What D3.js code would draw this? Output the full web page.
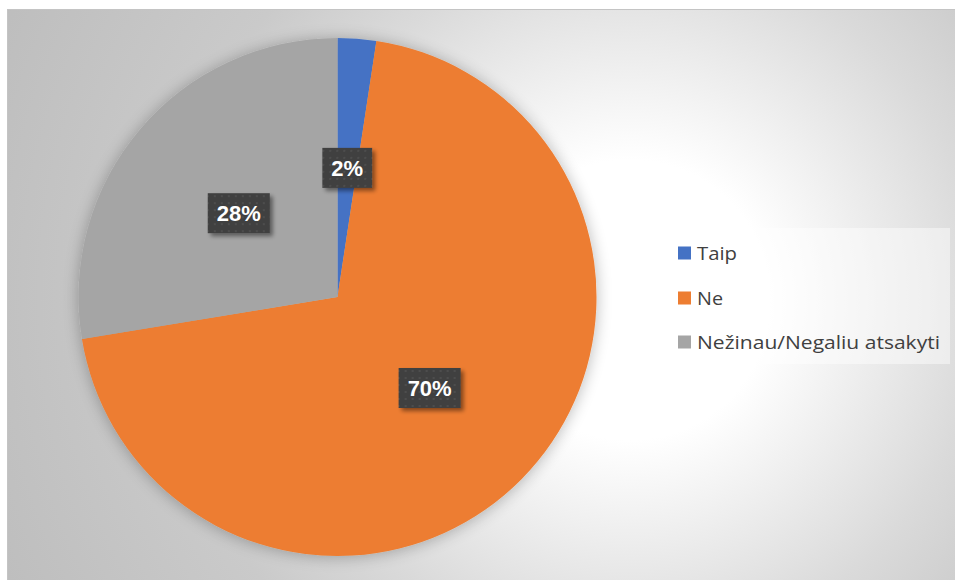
<!DOCTYPE html>
<html>
<head>
<meta charset="utf-8">
<script src="https://cdn.jsdelivr.net/npm/d3@7"></script>
<style>
  html, body { margin: 0; padding: 0; background: #ffffff; }
  svg { display: block; }
</style>
</head>
<body>
<script>
// ---- data ----
const categories = ["Taip", "Ne", "Nežinau/Negaliu atsakyti"];
const values = [2.4, 70.0, 27.6];
const colors = ["#4472c4", "#ed7d31", "#a5a5a5"];

const W = 955, H = 580;
const svg = d3.select("body").append("svg").attr("width", W).attr("height", H);
const defs = svg.append("defs");

// background gradient
const bg = defs.append("radialGradient").attr("id", "bg")
  .attr("gradientUnits", "userSpaceOnUse")
  .attr("cx", 630).attr("cy", 300).attr("r", 700);
[[0, "#ffffff"], [0.2, "#ffffff"], [0.5, "#dadada"], [0.66, "#cacaca"], [1, "#bdbdbd"]]
  .forEach(([o, c]) => bg.append("stop").attr("offset", o).attr("stop-color", c));

// pie shadow
const fs = defs.append("filter").attr("id", "pieShadow")
  .attr("x", "-20%").attr("y", "-20%").attr("width", "140%").attr("height", "140%");
fs.append("feGaussianBlur").attr("in", "SourceAlpha").attr("stdDeviation", 8).attr("result", "b");
fs.append("feOffset").attr("in", "b").attr("dx", 0).attr("dy", 1).attr("result", "o");
fs.append("feComponentTransfer").attr("in", "o").attr("result", "s")
  .append("feFuncA").attr("type", "linear").attr("slope", 0.28);
const fm = fs.append("feMerge");
fm.append("feMergeNode").attr("in", "s");
fm.append("feMergeNode").attr("in", "SourceGraphic");

// label box shadow
const fl = defs.append("filter").attr("id", "boxShadow")
  .attr("x", "-30%").attr("y", "-30%").attr("width", "160%").attr("height", "160%");
fl.append("feGaussianBlur").attr("in", "SourceAlpha").attr("stdDeviation", 2).attr("result", "b");
fl.append("feOffset").attr("in", "b").attr("dx", 3).attr("dy", 3).attr("result", "o");
fl.append("feComponentTransfer").attr("in", "o").attr("result", "s")
  .append("feFuncA").attr("type", "linear").attr("slope", 0.45);
const fm2 = fl.append("feMerge");
fm2.append("feMergeNode").attr("in", "s");
fm2.append("feMergeNode").attr("in", "SourceGraphic");

// dotted pattern for labels
const pat = defs.append("pattern").attr("id", "dots")
  .attr("patternUnits", "userSpaceOnUse").attr("width", 7).attr("height", 7);
pat.append("rect").attr("width", 7).attr("height", 7).attr("fill", "#404040");
pat.append("rect").attr("x", 3).attr("y", 3).attr("width", 2).attr("height", 2).attr("fill", "#4e4e4e");

// chart area
svg.append("rect").attr("x", 7.5).attr("y", 9.5).attr("width", W).attr("height", H)
  .attr("fill", "url(#bg)").attr("stroke", "#c4c4c4").attr("stroke-width", 1);

// pie
const cx = 337.5, cy = 297, R = 259;
const pie = d3.pie().sort(null).value(d => d)(values);
const arc = d3.arc().innerRadius(0).outerRadius(R);
const g = svg.append("g").attr("transform", `translate(${cx},${cy})`);
g.append("g").attr("filter", "url(#pieShadow)")
  .selectAll("path").data(pie).join("path")
  .attr("d", arc).attr("fill", (d, i) => colors[i]);

// data labels
const fmt = v => Math.round(v) + "%";
const lab = g.selectAll("g.lab").data(pie).join("g").attr("class", "lab")
  .attr("transform", d => `translate(${arc.centroid(d)})`);
lab.each(function(d) {
  const sel = d3.select(this);
  const t = sel.append("text")
    .attr("text-anchor", "middle").attr("dy", "0.36em")
    .attr("font-family", "Liberation Sans, Arial, sans-serif")
    .attr("font-weight", "bold").attr("font-size", 22)
    .attr("fill", "#ffffff").text(fmt(d.data));
  const bb = t.node().getBBox();
  const w = bb.width + 18, h = 40;
  sel.insert("rect", "text").attr("x", -w / 2).attr("y", -h / 2)
    .attr("width", w).attr("height", h)
    .attr("fill", "url(#dots)").attr("filter", "url(#boxShadow)");
});

// legend
const lg = svg.append("g");
lg.append("rect").attr("x", 666).attr("y", 228).attr("width", 284).attr("height", 136)
  .attr("fill", "#ffffff").attr("fill-opacity", 0.45);
const rowY = [253, 298, 342];
const textLen = [40, 26, 243];
const items = lg.selectAll("g.item").data(categories).join("g").attr("class", "item")
  .attr("transform", (d, i) => `translate(678,${rowY[i]})`);
items.append("rect").attr("x", 0).attr("y", -6.5).attr("width", 13).attr("height", 13)
  .attr("fill", (d, i) => colors[i]);
items.append("text").attr("x", 19).attr("y", 6.5)
  .attr("font-family", "Open Sans, Liberation Sans, sans-serif")
  .attr("font-size", 18.5).attr("fill", "#404040")
  .attr("textLength", (d, i) => textLen[i]).attr("lengthAdjust", "spacingAndGlyphs")
  .text(d => d);
</script>
</body>
</html>
